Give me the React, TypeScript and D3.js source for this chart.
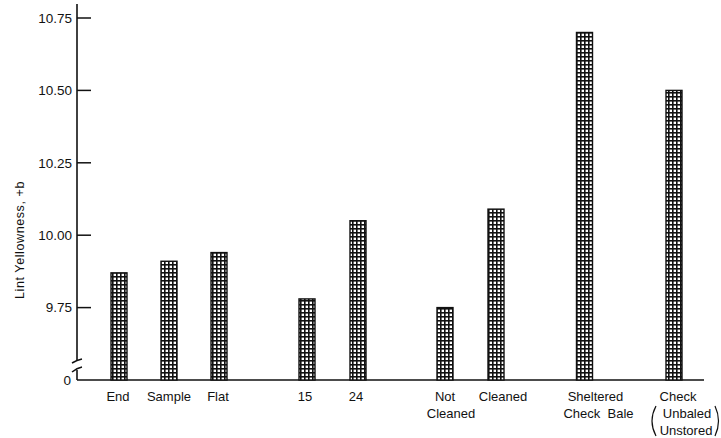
import React from "react";
import * as d3 from "d3";

const categories: string[][] = [
  ["End"],
  ["Sample"],
  ["Flat"],
  ["15"],
  ["24"],
  ["Not", "Cleaned"],
  ["Cleaned"],
  ["Sheltered", "Check  Bale"],
  ["Check", "Unbaled", "Unstored"],
];
const values: number[] = [9.87, 9.91, 9.94, 9.78, 10.05, 9.75, 10.09, 10.7, 10.5];
const yTicks: number[] = [9.75, 10.0, 10.25, 10.5, 10.75];
const yLabel = "Lint Yellowness, +b";

// layout: slot position of each category along x (groups separated by gaps)
const slots = [0, 1, 2, 3.76, 4.78, 6.52, 7.54, 9.31, 11.1];
// layout: horizontal offset of each label line from its bar centre
const labelDx: number[][] = [[-1], [0], [-1], [-2], [-2], [0, 6], [7], [11, 14], [4, 13, 12]];

const W = 721;
const H = 438;
const axisX = 77;
const baseY = 380;

export default function App() {
  const y = d3.scaleLinear().domain([9.5, 10.75]).range([baseY, 18]);
  const x = d3.scaleLinear().domain([0, 1]).range([119, 169]);
  const bw = 16;
  const font = "'Liberation Sans', Arial, sans-serif";
  return (
    <svg
      width={W}
      height={H}
      style={{ position: "absolute", left: 0, top: 0, background: "#fff" }}
    >
      <defs>
        <pattern id="grid" width={4} height={4} patternUnits="userSpaceOnUse">
          <rect width={4} height={4} fill="#fff" />
          <rect width={4} height={1.6} fill="#111" />
          <rect width={1.6} height={4} fill="#111" />
        </pattern>
      </defs>
      {/* y axis */}
      <line x1={axisX} x2={axisX} y1={4} y2={361} stroke="#111" strokeWidth={1.6} />
      <line x1={axisX} x2={axisX} y1={370} y2={baseY} stroke="#111" strokeWidth={1.6} />
      <path d={`M${axisX - 5},${363} Q${axisX},${360} ${axisX + 5},${359}`} fill="none" stroke="#111" strokeWidth={1.5} />
      <path d={`M${axisX - 5},${372} Q${axisX},${368} ${axisX + 5},${367}`} fill="none" stroke="#111" strokeWidth={1.5} />
      {yTicks.map((t) => (
        <g key={t}>
          <line x1={axisX} x2={axisX + 14} y1={y(t)} y2={y(t)} stroke="#111" strokeWidth={1.5} />
          <text
            x={axisX - 5}
            y={y(t)}
            dy="0.36em"
            textAnchor="end"
            fontFamily={font}
            fontSize={13.5}
            fill="#111"
          >
            {t.toFixed(2)}
          </text>
        </g>
      ))}
      <text x={axisX - 6} y={baseY} dy="0.36em" textAnchor="end" fontFamily={font} fontSize={13.5} fill="#111">
        0
      </text>
      <text
        transform={`translate(24,240) rotate(-90)`}
        textAnchor="middle"
        fontFamily={font}
        fontSize={12.5}
        letterSpacing={0.6}
        fill="#111"
      >
        {yLabel}
      </text>
      {/* x axis */}
      <line x1={axisX} x2={704} y1={baseY} y2={baseY} stroke="#111" strokeWidth={1.6} />
      {/* bars */}
      {values.map((v, i) => {
        const cx = x(slots[i]);
        return (
          <rect
            key={i}
            x={cx - bw / 2}
            y={y(v)}
            width={bw}
            height={baseY - y(v)}
            fill="url(#grid)"
            stroke="#111"
            strokeWidth={1.4}
          />
        );
      })}
      {/* category labels */}
      {categories.map((lines, i) => {
        const cx = x(slots[i]);
        return (
          <g key={i}>
            {lines.map((l, j) => (
              <text
                key={j}
                x={cx + labelDx[i][j]}
                y={396 + j * 17}
                dy="0.36em"
                textAnchor="middle"
                fontFamily={font}
                fontSize={13}
                fill="#111"
                style={{ whiteSpace: "pre" }}
              >
                {l}
              </text>
            ))}
            {lines.length === 3 && (
              <g fill="none" stroke="#111" strokeWidth={1.2}>
                <path d={`M${cx - 18},${406} Q${cx - 26},${421} ${cx - 18},${436}`} />
                <path d={`M${cx + 41},${406} Q${cx + 48},${421} ${cx + 41},${436}`} />
              </g>
            )}
          </g>
        );
      })}
    </svg>
  );
}
